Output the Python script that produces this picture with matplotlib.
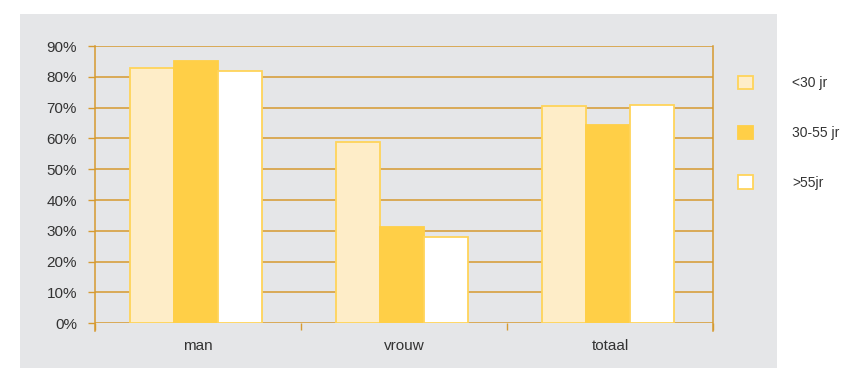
import matplotlib
matplotlib.use('Agg')
import matplotlib.pyplot as plt
from matplotlib.patches import Rectangle, Patch
import numpy as np

plt.rcParams['font.family'] = ['Liberation Sans', 'DejaVu Sans']

categories = ['man', 'vrouw', 'totaal']
series_names = ['<30 jr', '30-55 jr', '>55jr']
under_30 = [83, 59, 70.5]
age_30_55 = [85, 31.3, 64.5]
over_55 = [82, 28, 71]
yticks = [0, 10, 20, 30, 40, 50, 60, 70, 80, 90]

grid_col = '#D69A30'
edge_col = '#FFD45A'
fills = ['#FEEDC8', '#FFCF47', '#FFFFFF']
edges = [edge_col, '#FFCF47', edge_col]
bg = '#E5E6E8'
text_col = '#333333'
fs = 11
leg_fs = 10

fig = plt.figure(figsize=(8.42, 3.68), dpi=100)
fig.patch.set_facecolor('white')
# grey panel behind the chart
fig.patches.append(Rectangle((20 / 842, 0), 757 / 842, 354 / 368,
                             transform=fig.transFigure, facecolor=bg,
                             edgecolor='none', zorder=-1))

ax = fig.add_axes([95 / 842, 44.7 / 368, 618 / 842, 277.3 / 368])
ax.set_facecolor(bg)

x = np.arange(len(categories))
w = 0.214
for i, vals in enumerate([under_30, age_30_55, over_55]):
    ax.bar(x + (i - 1) * w - 0.01, vals, w, color=fills[i], edgecolor=edges[i],
           linewidth=1.3, label=series_names[i], zorder=3)

ax.set_xlim(-0.5, 2.5)
ax.set_ylim(0, 90)
ax.set_yticks(yticks)
ax.set_yticklabels([f'{v}%' for v in yticks])
ax.yaxis.grid(True, color=grid_col, linewidth=1.1, zorder=1)
ax.tick_params(axis='y', length=5, width=1, color=grid_col,
               labelcolor=text_col, labelsize=fs, pad=8)

ax.set_xticks([-0.5, 0.5, 1.5, 2.5])
ax.set_xticklabels([])
ax.set_xticks(x, minor=True)
ax.set_xticklabels(categories, minor=True)
ax.tick_params(axis='x', which='major', length=5, width=1, color=grid_col)
ax.tick_params(axis='x', which='minor', length=0, labelsize=fs,
               labelcolor=text_col, pad=11)

for s in ['top', 'bottom']:
    ax.spines[s].set_visible(False)
for s in ['left', 'right']:
    ax.spines[s].set_color(grid_col)
    ax.spines[s].set_linewidth(1.1)
    ax.spines[s].set_bounds(-2.5, 90)

handles = [Patch(facecolor=fills[i], edgecolor=edges[i], linewidth=1.3)
           for i in range(3)]
leg = fig.legend(handles, series_names, loc='upper left',
                 bbox_to_anchor=(738 / 842, 1 - 76 / 368), frameon=False,
                 fontsize=leg_fs, handlelength=1.08, handleheight=1.08,
                 handletextpad=2.8, labelspacing=2.55, borderaxespad=0,
                 borderpad=0)
for t in leg.get_texts():
    t.set_color(text_col)

fig.savefig('out.png', dpi=100, facecolor='white')
